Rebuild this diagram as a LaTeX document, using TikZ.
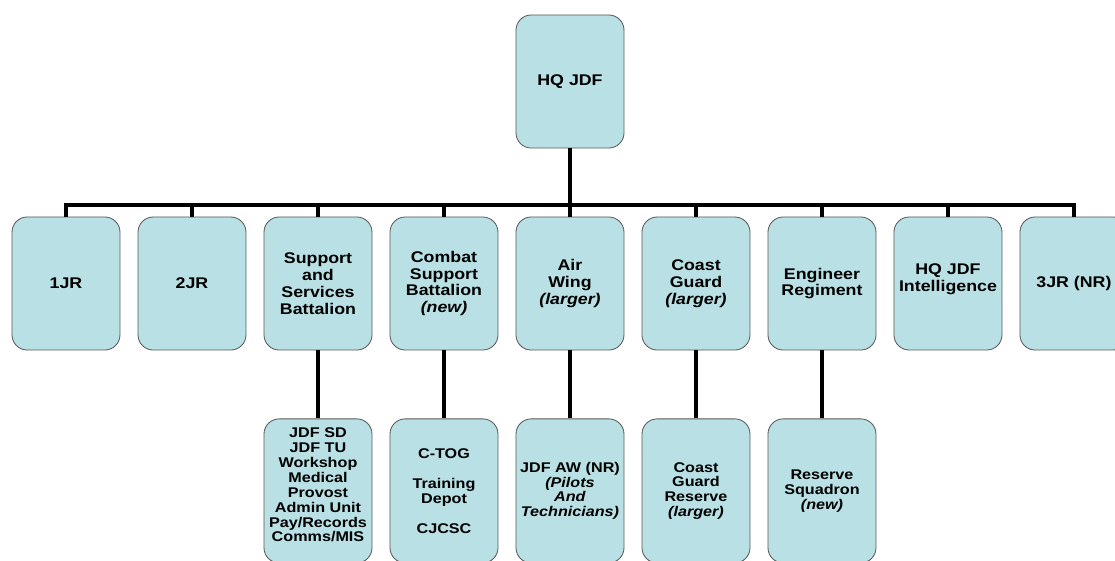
\documentclass[tikz,border=0pt]{standalone}
\usepackage{fontspec}
\setmainfont{Liberation Sans}[FakeStretch=1.15]
\usetikzlibrary{positioning}
\definecolor{boxblue}{RGB}{185,224,228}

\begin{document}
\begin{tikzpicture}[x=0.025cm,y=-0.025cm,node distance=0.428cm,
        unit/.style={rectangle,rounded corners=0.38cm,draw=black!65,fill=boxblue,line width=0.6pt,
          minimum width=2.7cm,minimum height=3.325cm,inner sep=1pt,align=center,
          font=\fontsize{11}{12}\selectfont\bfseries},
        sub unit/.style={unit,minimum height=3.6cm,font=\fontsize{10}{10.6}\selectfont\bfseries},
        link/.style={line width=2.8pt}]
        \useasboundingbox (0,0) rectangle (1115,560);
        \node[unit] (hq) at (570,81.5) {HQ JDF};
        \node[unit] (1) at (66,283.5) {1JR};
        \node[unit] (2) [right=of 1] {2JR};
        \node[unit] (3) [right=of 2] {Support\\and\\Services\\Battalion};
        \node[unit] (4) [right=of 3] {Combat\\Support\\Battalion\\\textit{(new)}};
        \node[unit] (5) [right=of 4] {Air\\Wing\\\textit{(larger)}};
        \node[unit] (6) [right=of 5] {Coast\\Guard\\\textit{(larger)}};
        \node[unit] (7) [right=of 6] {Engineer\\Regiment};
        \node[unit] (8) [right=of 7] {HQ JDF\\Intelligence\\[-4pt]};
        \node[unit] (9) [right=of 8] {3JR (NR)};
        \node[sub unit] (10) [below=1.7cm of 3] {JDF SD\\JDF TU\\Workshop\\Medical\\Provost\\Admin Unit\\Pay/Records\\Comms/MIS\\[-2pt]};
        \node[sub unit] (11) [below=1.7cm of 4] {C-TOG\\[10.6pt]Training\\Depot\\[10.6pt]CJCSC};
        \node[sub unit] (12) [below=1.7cm of 5] {JDF AW (NR)\\\textit{(Pilots}\\\textit{And}\\\textit{Technicians)}};
        \node[sub unit] (13) [below=1.7cm of 6] {Coast\\Guard\\Reserve\\\textit{(larger)}};
        \node[sub unit] (14) [below=1.7cm of 7] {Reserve\\Squadron\\\textit{(new)}};
        % tree lines
        \coordinate (bus) at (570,205);
        \draw[link,line width=3.2pt] (hq) -- (bus);
        \draw[link] (1.north) |- (bus) -| (9.north);
        \foreach \n in {2,...,8}
          \draw[link] (\n.north |- bus) -- (\n.north);
        \path[link]
        (3) edge (10)
        (4) edge (11)
        (5) edge (12)
        (6) edge (13)
        (7) edge (14)
        ;
\end{tikzpicture}
\end{document}
